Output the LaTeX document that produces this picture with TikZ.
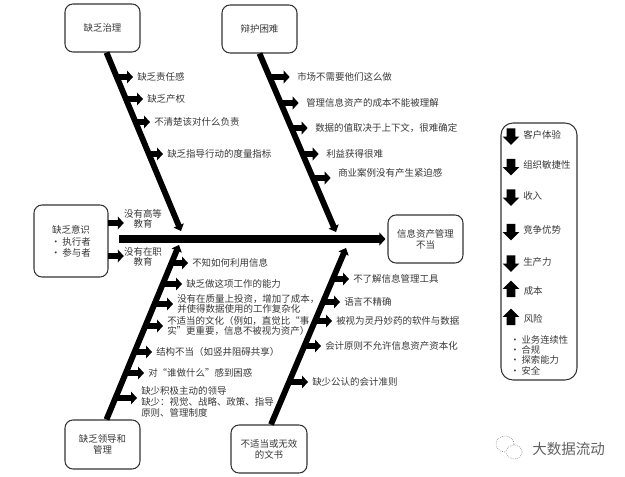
\documentclass[tikz,border=0pt]{standalone}
\usepackage{fontspec}
\setmainfont{Noto Sans CJK SC}
\usetikzlibrary{arrows.meta,shapes.arrows}
\definecolor{ink}{gray}{0.22}
\tikzset{
  box/.style 2 args={draw=black!80,line width=.8pt,rounded corners=6pt,fill=white,
    minimum width=#1*.75pt,minimum height=#2*.75pt,inner sep=0pt,align=center,
    text=ink,font=\fontsize{7.1}{8.2}\selectfont},
  lab/.style={anchor=west,inner xsep=3pt,inner ysep=1pt,align=left,text=ink,
    font=\fontsize{7.1}{8}\selectfont},
  capt/.style={inner sep=0pt,align=center,text=ink,font=\fontsize{7.1}{8}\selectfont},
  bone/.style={line width=4.4pt,-{Triangle[width=8pt,length=4.5pt]}},
  spine/.style={line width=5.3pt,-{Triangle[width=9.5pt,length=4.5pt]}},
  rib/.style={line width=4pt,-{Triangle[width=9.5pt,length=4.5pt]}},
  ribfar/.style={rib,shorten >=2.5pt},
  legarrow/.style={single arrow,fill=black,draw=none,inner sep=0pt,
    minimum width=12pt,minimum height=12.5pt,single arrow head extend=3pt},
  legdown/.style={legarrow,shape border rotate=270},
  legup/.style={legarrow,shape border rotate=90},
  legtext/.style={anchor=west,inner sep=0pt,text=ink,font=\fontsize{7.1}{8}\selectfont},
  listline/.style={anchor=west,inner sep=0pt,text=ink,font=\fontsize{7}{8}\selectfont},
  bubble/.style={draw=black!55,line width=.45pt,densely dotted,fill=white},
}
\newcommand{\dotitem}[1]{\makebox[8.5pt][l]{·}#1}
% an empty square that gives the legend arrows their shaft width
\newcommand{\shaftbox}{\makebox[6pt]{\rule{0pt}{6pt}}}
\begin{document}
\begin{tikzpicture}[x=.75pt,y=-.75pt]
\useasboundingbox (0,0) rectangle (625,477);

% cause boxes and the outcome box
\node[box={75}{48}] (gov) at (102.5,28) {缺乏治理};
\node[box={75}{48}] (def) at (259.5,29) {辩护困难};
\node[box={74}{72},text width=42pt] (aware) at (71,241)
  {缺乏意识\\[1pt]\dotitem{执行者}\\\dotitem{参与者}};
\node[box={75}{49}] (lead) at (102.5,444.5) {缺乏领导和\\管理};
\node[box={76}{48}] (doc) at (269,449) {不适当或无效\\的文书};
\node[box={75}{48}] (out) at (425.5,239) {信息资产管理\\不当};

% main spine and its four bones
\coordinate (tail) at (119,239);
\draw[spine,shorten >=1.5pt] (tail) -- (out);
\coordinate (ja) at (181,231);
\coordinate (jb) at (336,232);
\coordinate (jc) at (179,245);
\coordinate (jd) at (346,248);
\draw[bone] ([xshift=3pt]gov.south) -- (ja);
\draw[bone] (def.south) -- (jb);
\draw[bone] ([xshift=3pt]lead.north) -- (jc);
\draw[bone] (doc.north) ++(2,0) -- (jd);

% causes on the governance bone
\node[lab] (a1) at (133,77) {缺乏责任感};
\node[lab] (a2) at (143,99) {缺乏产权};
\node[lab] (a3) at (150,122) {不清楚该对什么负责};
\node[lab] (a4) at (163,154) {缺乏指导行动的度量指标};
\foreach \n/\x/\y in {a1/116/77,a2/125/99,a3/135/122,a4/148.5/154}{
  \coordinate (s\n) at (\x,\y);
  \draw[rib] (s\n) -- (s\n -| \n.west);
}

% causes on the defence bone
\node[lab] (b1) at (293,77) {市场不需要他们这么做};
\node[lab] (b2) at (302,103) {管理信息资产的成本不能被理解};
\node[lab] (b3) at (311,128) {数据的值取决于上下文，很难确定};
\node[lab] (b4) at (322,154) {利益获得很难};
\node[lab] (b5) at (334,173) {商业案例没有产生紧迫感};
\foreach \n/\x/\y in {b1/270/77,b2/281/103,b3/292/128,b4/303/154,b5/313/178}{
  \coordinate (s\n) at (\x,\y);
  \draw[ribfar] (s\n) -- (s\n -| \n.west);
}

% causes on the leadership bone
\node[lab] (c1) at (188,263) {不知如何利用信息};
\node[lab] (c2) at (182,284) {缺乏做这项工作的能力};
\node[lab] (c3) at (173,304) {没有在质量上投资，增加了成本，\\并使得数据使用的工作复杂化};
\node[lab] (c4) at (163,326) {不适当的文化（例如，直觉比“事\\实”更重要，信息不被视为资产）};
\node[lab] (c5) at (152,352) {结构不当（如竖井阻碍共享）};
\node[lab] (c6) at (144,373) {对“谁做什么”感到困惑};
\node[lab] (c7) at (137,402) {缺少积极主动的领导\\缺少：视觉、战略、政策、指导\\原则、管理制度};
\foreach \n/\x/\y in {c1/173/263,c2/164/284,c3/156/304,c4/146/326,c5/135/352,c6/126/373,c7/116/398}{
  \coordinate (s\n) at (\x,\y);
  \draw[rib] (s\n) -- (s\n -| \n.west);
}

% causes on the documentation bone
\node[lab] (d1) at (349,279) {不了解信息管理工具};
\node[lab] (d2) at (340,302) {语言不精确};
\node[lab] (d3) at (332,321) {被视为灵丹妙药的软件与数据};
\node[lab] (d4) at (321,346) {会计原则不允许信息资产资本化};
\node[lab] (d5) at (308,382) {缺少公认的会计准则};
\foreach \n/\x/\y in {d1/331/279,d2/321/302,d3/313/321,d4/303/346,d5/289/382}{
  \coordinate (s\n) at (\x,\y);
  \draw[rib] (s\n) -- (s\n -| \n.west);
}

% causes leaving the awareness box
\node[capt] (e1) at (143,219) {没有高等\\教育};
\node[capt] (e2) at (143,257) {没有在职\\教育};
\coordinate (se1) at (108,223);
\coordinate (se2) at (108,256);
\draw[rib] (se1) -- (se1 -| e1.west);
\draw[rib] (se2) -- (se2 -| e2.west);

% impact legend
\draw[draw=black!80,line width=.8pt,rounded corners=9pt] (501,123) rectangle (577,380);
\foreach \n/\y/\t in {k1/134.5/客户体验,k2/165/组织敏捷性,k3/195.5/收入,k4/230/竞争优势,k5/261.5/生产力}{
  \node[legdown] (\n) at (511,\y) {\shaftbox};
  \node[legtext] at (523,\y) {\t};
}
\foreach \n/\y/\t in {k6/291/成本,k7/319/风险}{
  \node[legup] (\n) at (511,\y) {\shaftbox};
  \node[legtext] at (523.5,\y) {\t};
}
\node[listline] (m1) at (510,340) {\dotitem{业务连续性}};
\node[listline] (m2) at (510,349.5) {\dotitem{合规}};
\node[listline] (m3) at (510,360) {\dotitem{探索能力}};
\node[listline] (m4) at (510,371) {\dotitem{安全}};

% account mark, lower right
\draw[bubble] (505,444) ellipse (9 and 8);
\draw[bubble] (514,452) ellipse (8 and 7);
\node[anchor=west,inner sep=0pt,text=black!62,font=\fontsize{10.9}{12}\selectfont] (mark) at (532,449) {大数据流动};
\end{tikzpicture}
\end{document}
